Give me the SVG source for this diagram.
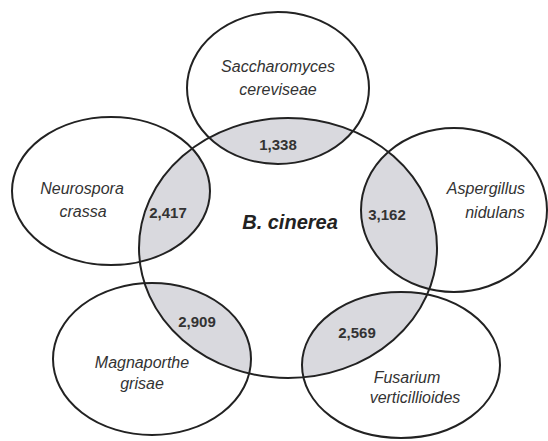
<svg xmlns="http://www.w3.org/2000/svg" width="548" height="441" viewBox="0 0 548 441">
<style>
.o{fill:none;stroke:#222;stroke-width:2}
.sh{fill:#d9d9de;stroke:none}
.t{font-family:"Liberation Sans",Arial,sans-serif;font-style:italic;font-size:16px;fill:#333;text-anchor:middle}
.n{font-family:"Liberation Sans",Arial,sans-serif;font-weight:bold;font-size:15px;fill:#333;text-anchor:middle}
.c{font-family:"Liberation Sans",Arial,sans-serif;font-weight:bold;font-style:italic;font-size:20px;fill:#222;text-anchor:middle}
</style>
<defs>
<clipPath id="cin"><ellipse cx="288" cy="248" rx="149" ry="130"/></clipPath>
</defs>
<rect width="548" height="441" fill="#fff"/>
<g clip-path="url(#cin)">
<ellipse class="sh" cx="278" cy="88" rx="91" ry="76"/>
<ellipse class="sh" cx="111" cy="191" rx="99" ry="74"/>
<ellipse class="sh" cx="454" cy="210" rx="93" ry="82"/>
<ellipse class="sh" cx="152" cy="359" rx="99" ry="76"/>
<ellipse class="sh" cx="401" cy="365" rx="99" ry="73"/>
</g>
<g id="cinerea"><ellipse class="o" cx="288" cy="248" rx="149" ry="130"/><text class="c" x="290" y="229">B. cinerea</text></g>
<g id="saccharomyces"><ellipse class="o" cx="278" cy="88" rx="91" ry="76"/><text class="t" x="278" y="72">Saccharomyces</text><text class="t" x="278" y="95">cereviseae</text><text class="n" x="278" y="150">1,338</text></g>
<g id="neurospora"><ellipse class="o" cx="111" cy="191" rx="99" ry="74"/><text class="t" x="82" y="194">Neurospora</text><text class="t" x="83" y="217">crassa</text><text class="n" x="168" y="218">2,417</text></g>
<g id="aspergillus"><ellipse class="o" cx="454" cy="210" rx="93" ry="82"/><text class="t" x="486" y="194">Aspergillus</text><text class="t" x="495" y="218">nidulans</text><text class="n" x="387" y="220">3,162</text></g>
<g id="magnaporthe"><ellipse class="o" cx="152" cy="359" rx="99" ry="76"/><text class="t" x="142" y="368">Magnaporthe</text><text class="t" x="142" y="389">grisae</text><text class="n" x="197" y="327">2,909</text></g>
<g id="fusarium"><ellipse class="o" cx="401" cy="365" rx="99" ry="73"/><text class="t" x="407" y="383">Fusarium</text><text class="t" x="415" y="403">verticillioides</text><text class="n" x="357" y="338">2,569</text></g>
<g id="connectors"></g>
</svg>
